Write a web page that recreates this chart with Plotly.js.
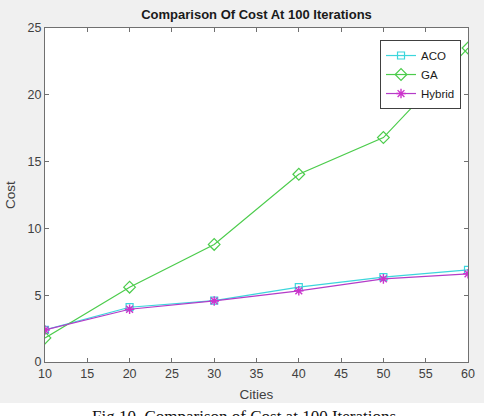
<!DOCTYPE html>
<html>
<head>
<meta charset="utf-8">
<script src="https://cdn.plot.ly/plotly-3.0.1.min.js"></script>
<style>
  html, body { margin: 0; padding: 0; background: #ffffff; }
  #chart { width: 484px; height: 416px; }
</style>
</head>
<body>
<div id="chart"></div>
<script>
// Number of cities on the x axis
const cities = [10, 20, 30, 40, 50, 60];

// Cost after 100 iterations for each algorithm
const acoCost    = [2.4, 4.1, 4.6, 5.6, 6.35, 6.9];
const gaCost     = [1.8, 5.6, 8.8, 14.05, 16.8, 23.5];
const hybridCost = [2.4, 3.95, 4.57, 5.33, 6.22, 6.6];

const xTicks = [10, 15, 20, 25, 30, 35, 40, 45, 50, 55, 60];
const yTicks = [0, 5, 10, 15, 20, 25];

const traces = [
  {
    x: cities, y: acoCost, name: 'ACO', mode: 'lines+markers', type: 'scatter',
    line: { color: '#3cd6dc', width: 1.2 },
    marker: { symbol: 'square-open', size: 7, color: '#3cd6dc', line: { width: 1.2 } }
  },
  {
    x: cities, y: gaCost, name: 'GA', mode: 'lines+markers', type: 'scatter',
    line: { color: '#4ccc4c', width: 1.2 },
    marker: { symbol: 'diamond-open', size: 9, color: '#4ccc4c', line: { width: 1.2 } }
  },
  {
    x: cities, y: hybridCost, name: 'Hybrid', mode: 'lines+markers', type: 'scatter',
    line: { color: '#b43cc8', width: 1.2 },
    marker: { symbol: 'asterisk-open', size: 8, color: '#cc33cc', line: { width: 1.4, color: '#cc33cc' } }
  }
];

const axisCommon = {
  showgrid: false, zeroline: false,
  showline: true, linecolor: '#707070', linewidth: 1, mirror: 'ticks',
  ticks: 'inside', ticklen: 4, tickcolor: '#707070',
  tickfont: { family: 'Liberation Sans, Arial, sans-serif', size: 12.5, color: '#404040' }
};

const layout = {
  width: 484, height: 416,
  paper_bgcolor: '#f0f0f0', plot_bgcolor: '#ffffff',
  margin: { l: 45, r: 16, t: 28, b: 54 },
  showlegend: true,
  title: {
    text: '<b>Comparison Of Cost At 100 Iterations</b>',
    font: { family: 'Liberation Sans, Arial, sans-serif', size: 13, color: '#1a1a1a' },
    x: 0.53, xanchor: 'center', y: 0.965, yanchor: 'middle'
  },
  xaxis: Object.assign({}, axisCommon, {
    range: [10, 60], tickvals: xTicks,
    title: { text: 'Cities', standoff: 9,
      font: { family: 'Liberation Sans, Arial, sans-serif', size: 13.5, color: '#404040' } }
  }),
  yaxis: Object.assign({}, axisCommon, {
    range: [0, 25], tickvals: yTicks,
    title: { text: 'Cost', standoff: 8,
      font: { family: 'Liberation Sans, Arial, sans-serif', size: 13.5, color: '#404040' } }
  }),
  legend: {
    x: 0.792, y: 0.964, xanchor: 'left', yanchor: 'top',
    bgcolor: '#ffffff', bordercolor: '#404040', borderwidth: 1,
    font: { family: 'Liberation Sans, Arial, sans-serif', size: 11.5, color: '#1a1a1a' },
    tracegroupgap: 0, itemwidth: 30
  },
  shapes: [
    {
      type: 'rect', xref: 'paper', yref: 'paper',
      x0: -0.2, x1: 1.2, y0: -0.2, y1: -0.1228,
      fillcolor: '#ffffff', line: { width: 0 }, layer: 'above'
    }
  ],
  annotations: [
    {
      xref: 'paper', yref: 'paper', x: 0.47, y: -0.128,
      xanchor: 'center', yanchor: 'top', showarrow: false,
      text: 'Fig.10. Comparison of Cost at 100 Iterations',
      font: { family: 'Liberation Serif, Times New Roman, serif', size: 17, color: '#111111' }
    }
  ]
};

Plotly.newPlot('chart', traces, layout, { displayModeBar: false, staticPlot: true });
</script>
</body>
</html>
